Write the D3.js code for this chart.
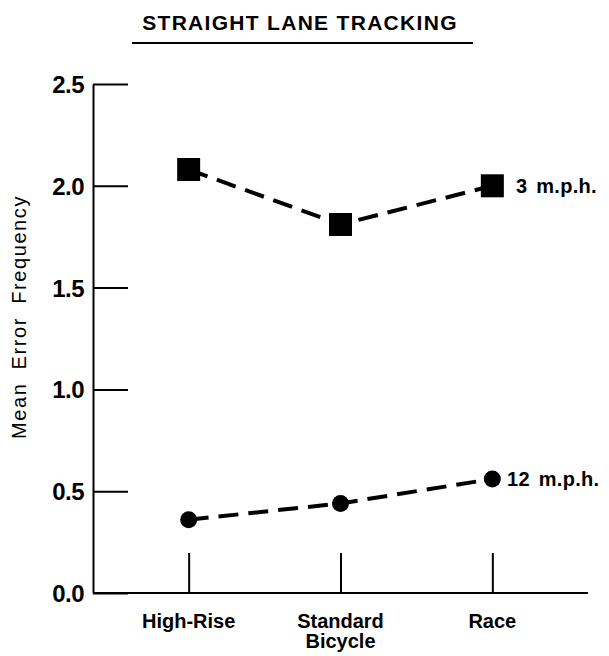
<!DOCTYPE html>
<html><head><meta charset="utf-8">
<script src="https://cdn.jsdelivr.net/npm/d3@7"></script>
<style>body{margin:0;background:#fff}svg{display:block}</style>
</head><body>
<svg id="c" width="609" height="656"></svg>
<script>
const categories = ["High-Rise", "Standard Bicycle", "Race"];
const categoryLines = [["High-Rise"], ["Standard", "Bicycle"], ["Race"]];
const series3mph = [2.08, 1.81, 2.00];
const series12mph = [0.36, 0.44, 0.56];
const seriesLabels = ["3 m.p.h.", "12 m.p.h."];
const yTicks = [0, 0.5, 1.0, 1.5, 2.0, 2.5];
const title = "STRAIGHT LANE TRACKING";
const yTitle = "Mean Error Frequency";

const svg = d3.select("#c");
const font = "'Liberation Sans', Arial, sans-serif";
const x = d3.scalePoint().domain(categories).range([93, 588]).padding(0.63);
const y = d3.scaleLinear().domain([0, 2.5]).range([593, 84]);

// title
svg.append("text").attr("x", 300).attr("y", 30).attr("text-anchor", "middle")
  .attr("font-family", font).attr("font-weight", "bold").attr("font-size", 21)
  .attr("letter-spacing", 1.3).text(title);
svg.append("line").attr("x1", 132).attr("x2", 473).attr("y1", 43).attr("y2", 43)
  .attr("stroke", "#000").attr("stroke-width", 2);

// y axis
const yAxis = d3.axisLeft(y).tickValues(yTicks).tickFormat(d3.format(".1f"))
  .tickSizeInner(-35).tickSizeOuter(0).tickPadding(9);
const gy = svg.append("g").attr("transform", "translate(93,0)").call(yAxis);
gy.selectAll("path,line").attr("stroke", "#000").attr("stroke-width", 2);
gy.selectAll("text").attr("font-family", font).attr("font-size", 24).attr("font-weight", "bold")
  .attr("fill", "#000").attr("dy", "0.35em").attr("letter-spacing", -0.5);

// x axis
const xAxis = d3.axisBottom(x).tickSizeInner(-40).tickSizeOuter(0).tickFormat("");
const gx = svg.append("g").attr("transform", "translate(0,593)").call(xAxis);
gx.select("path").attr("d", "M93,0H588");
gx.selectAll("path,line").attr("stroke", "#000").attr("stroke-width", 2);
categories.forEach((c, i) => {
  const t = svg.append("text").attr("x", x(c)).attr("y", 628).attr("text-anchor", "middle")
    .attr("font-family", font).attr("font-weight", "bold").attr("font-size", 20).attr("letter-spacing", 0);
  categoryLines[i].forEach((ln, j) => t.append("tspan").attr("x", x(c)).attr("dy", j === 0 ? 0 : 20).text(ln));
});

// y title
svg.append("text").attr("transform", "translate(26,317) rotate(-90)").attr("text-anchor", "middle")
  .attr("font-family", font).attr("font-size", 20).attr("letter-spacing", 1.6).attr("word-spacing", 6)
  .attr("fill", "#000").text(yTitle);

// lines
const line = d3.line().x((d, i) => x(categories[i])).y(d => y(d));
[series3mph, series12mph].forEach(s => {
  svg.append("path").datum(s).attr("d", line).attr("fill", "none").attr("stroke", "#000")
    .attr("stroke-width", 4).attr("stroke-dasharray", "20,10");
});
// markers
svg.selectAll("rect.m").data(series3mph).join("rect").attr("class", "m")
  .attr("x", (d, i) => x(categories[i]) - 11.5).attr("y", d => y(d) - 11.5)
  .attr("width", 23).attr("height", 23).attr("fill", "#000");
svg.selectAll("circle.m").data(series12mph).join("circle").attr("class", "m")
  .attr("cx", (d, i) => x(categories[i])).attr("cy", d => y(d)).attr("r", 8.5).attr("fill", "#000");

// series labels
svg.append("text").attr("x", 516).attr("y", y(series3mph[2]) + 7).attr("font-family", font)
  .attr("font-weight", "bold").attr("font-size", 20).attr("letter-spacing", 0.3).attr("word-spacing", 3).text(seriesLabels[0]);
svg.append("text").attr("x", 507).attr("y", y(series12mph[2]) + 7).attr("font-family", font)
  .attr("font-weight", "bold").attr("font-size", 20).attr("letter-spacing", 0.3).attr("word-spacing", 3).text(seriesLabels[1]);
</script>
</body></html>
